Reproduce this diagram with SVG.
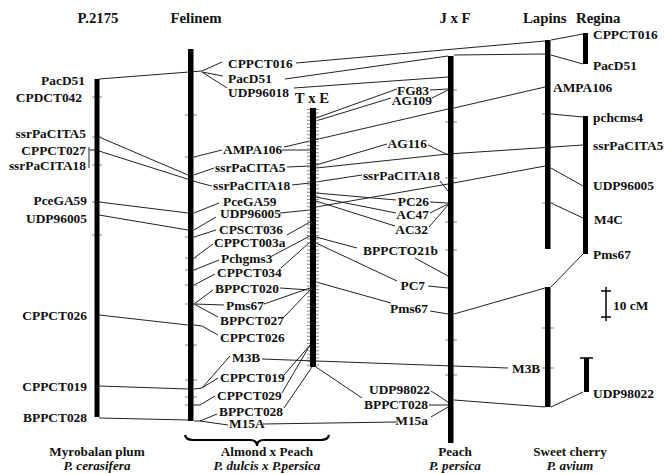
<svg xmlns="http://www.w3.org/2000/svg" width="665" height="474" viewBox="0 0 665 474">
<style>
.bar{fill:#000}
.c{fill:none;stroke:#222;stroke-width:1}
.tk{stroke:#888;stroke-width:1}
.t{font-family:"Liberation Serif","Times New Roman",serif;font-weight:bold;font-size:13.4px;fill:#111}
.h{font-size:14.8px}
.b{font-size:13.2px}
.it{font-style:italic}
.e{text-anchor:end}
.m{text-anchor:middle}
</style>
<rect width="665" height="474" fill="#fff"/>
<g id="titles" class="t h m">
<text x="98" y="23">P.2175</text>
<text x="196" y="23">Felinem</text>
<text x="312" y="103">T x E</text>
<text x="455" y="23">J x F</text>
<text x="523" y="23" style="text-anchor:start">Lapins</text>
<text x="576" y="23" style="text-anchor:start">Regina</text>
</g>
<g id="connectors" class="c">
<polyline points="99,79 202,71"/>
<polyline points="202,71 222,62"/>
<polyline points="202,72 223,76"/>
<polyline points="202,72 227,88"/>
<polyline points="99,137 188,175"/>
<polyline points="194,175 214,168"/>
<polyline points="89,147 89,168"/>
<polyline points="89,150 95,150"/>
<polyline points="99,151 200,183 212,186"/>
<polyline points="99,202 188,213"/>
<polyline points="194,213 219,203"/>
<polyline points="99,215 188,230"/>
<polyline points="194,230 216,217"/>
<polyline points="194,237 216,230"/>
<polyline points="194,258 213,244"/>
<polyline points="194,270 219,260"/>
<polyline points="194,285 215,274"/>
<polyline points="194,304 213,290"/>
<polyline points="194,304 224,305"/>
<polyline points="194,304 218,317"/>
<polyline points="99,315 188,325"/>
<polyline points="194,325 202,326 218,335"/>
<polyline points="99,386 188,389"/>
<polyline points="194,389 202,388 218,378"/>
<polyline points="202,388 230,356"/>
<polyline points="194,405 200,405 215,396"/>
<polyline points="99,418 188,420"/>
<polyline points="194,421 200,421 217,414"/>
<polyline points="200,421 228,425"/>
<polyline points="296,63 545,41"/>
<polyline points="551,40 583,34"/>
<polyline points="285,79 448,56"/>
<polyline points="454,55 545,54"/>
<polyline points="551,55 583,64"/>
<polyline points="294,88 448,77"/>
<polyline points="194,157 222,150"/>
<polyline points="282,150 310,150"/>
<polyline points="284,147 448,109"/>
<polyline points="454,108 545,87"/>
<polyline points="287,167 310,166"/>
<polyline points="316,168 448,154 583,145"/>
<polyline points="292,185 310,183"/>
<polyline points="316,182 362,175"/>
<polyline points="280,213 310,210"/>
<polyline points="316,207 448,184 545,166"/>
<polyline points="551,168 583,186"/>
<polyline points="287,235 310,222"/>
<polyline points="272,256 310,236"/>
<polyline points="281,268 310,242"/>
<polyline points="280,288 310,290"/>
<polyline points="264,304 310,288"/>
<polyline points="283,318 310,290"/>
<polyline points="262,359 508,368"/>
<polyline points="284,375 310,345"/>
<polyline points="282,393 310,345"/>
<polyline points="284,408 312,367"/>
<polyline points="263,424 396,422"/>
<polyline points="316,118 397,89"/>
<polyline points="316,121 391,98"/>
<polyline points="430,90 448,89"/>
<polyline points="432,98 448,90"/>
<polyline points="316,165 387,144"/>
<polyline points="428,145 448,155"/>
<polyline points="440,181 448,191"/>
<polyline points="316,193 396,200"/>
<polyline points="430,202 448,203"/>
<polyline points="316,197 396,213"/>
<polyline points="430,213 448,204"/>
<polyline points="316,201 395,226"/>
<polyline points="429,227 448,205"/>
<polyline points="316,237 357,248"/>
<polyline points="415,258 448,276"/>
<polyline points="316,243 397,281"/>
<polyline points="428,286 448,288"/>
<polyline points="316,282 391,303"/>
<polyline points="430,311 448,314"/>
<polyline points="454,314 545,288"/>
<polyline points="551,287 583,254"/>
<polyline points="316,367 362,398"/>
<polyline points="431,391 448,402"/>
<polyline points="429,405 448,405"/>
<polyline points="431,417 448,407"/>
<polyline points="454,400 545,407"/>
<polyline points="551,407 583,392"/>
<polyline points="551,114 583,117"/>
<polyline points="551,203 583,218"/>
</g>
<g id="P2175">
<g class="tk">
<line x1="92" y1="97" x2="102" y2="97"/><line x1="92" y1="137" x2="102" y2="137"/><line x1="92" y1="165" x2="102" y2="165"/><line x1="92" y1="202" x2="102" y2="202"/><line x1="92" y1="235" x2="102" y2="235"/>
</g>
<rect class="bar" x="94.5" y="79" width="5" height="338"/>
<g class="t e">
<text x="85" y="84.5">PacD51</text>
<text x="82" y="101.5">CPDCT042</text>
<text x="86" y="137.5">ssrPaCITA5</text>
<text x="86" y="154.5">CPPCT027</text>
<text x="86" y="169.5">ssrPaCITA18</text>
<text x="87" y="204.5">PceGA59</text>
<text x="87" y="222.5">UDP96005</text>
<text x="87" y="319.5">CPPCT026</text>
<text x="87" y="390.5">CPPCT019</text>
<text x="87" y="421.5">BPPCT028</text>
</g>
</g>
<g id="Felinem">
<g class="tk">
<line x1="185" y1="115" x2="197" y2="115"/><line x1="185" y1="157" x2="197" y2="157"/><line x1="185" y1="237" x2="197" y2="237"/><line x1="185" y1="258" x2="197" y2="258"/><line x1="185" y1="270" x2="197" y2="270"/><line x1="185" y1="285" x2="197" y2="285"/><line x1="185" y1="304" x2="197" y2="304"/><line x1="185" y1="345" x2="197" y2="345"/><line x1="185" y1="380" x2="197" y2="380"/><line x1="185" y1="397" x2="197" y2="397"/><line x1="185" y1="405" x2="197" y2="405"/>
</g>
<rect class="bar" x="188" y="49" width="5.5" height="372"/>
<g class="t">
<text x="228" y="67.5">CPPCT016</text>
<text x="228" y="83">PacD51</text>
<text x="228" y="96.5">UDP96018</text>
<text x="223" y="153.5">AMPA106</text>
<text x="215" y="171.5">ssrPaCITA5</text>
<text x="213" y="189.5">ssrPaCITA18</text>
<text x="223" y="205.5">PceGA59</text>
<text x="220" y="217.5">UDP96005</text>
<text x="219" y="233.5">CPSCT036</text>
<text x="214" y="246.5">CPPCT003a</text>
<text x="221" y="262.5">Pchgms3</text>
<text x="217" y="276.5">CPPCT034</text>
<text x="215" y="292.5">BPPCT020</text>
<text x="226" y="309.5">Pms67</text>
<text x="220" y="324.5">BPPCT027</text>
<text x="220" y="341.5">CPPCT026</text>
<text x="232" y="361.5">M3B</text>
<text x="220" y="381.5">CPPCT019</text>
<text x="217" y="399.5">CPPCT029</text>
<text x="219" y="415.5">BPPCT028</text>
<text x="229" y="427.5">M15A</text>
</g>
</g>
<g id="TxE">
<line x1="313" y1="109" x2="313" y2="366" stroke="#888" stroke-width="12" stroke-dasharray="1 2.6"/>
<rect class="bar" x="310" y="108" width="6" height="259"/>
</g>
<g id="JxF">
<g class="tk">
<line x1="445" y1="90" x2="457" y2="90"/><line x1="445" y1="122" x2="457" y2="122"/><line x1="445" y1="178" x2="457" y2="178"/><line x1="445" y1="222" x2="457" y2="222"/><line x1="445" y1="250" x2="457" y2="250"/><line x1="445" y1="340" x2="457" y2="340"/><line x1="445" y1="375" x2="457" y2="375"/>
</g>
<rect class="bar" x="448" y="56" width="5.5" height="387"/>
<g class="t e">
<text x="429" y="94.5">FG83</text>
<text x="432" y="104.5">AG109</text>
<text x="427" y="147.5">AG116</text>
<text x="440" y="179.5">ssrPaCITA18</text>
<text x="429" y="205.5">PC26</text>
<text x="429" y="218.5">AC47</text>
<text x="428" y="233.5">AC32</text>
<text x="438" y="254.5">BPPCTO21b</text>
<text x="425" y="289.5">PC7</text>
<text x="428" y="312.5">Pms67</text>
<text x="430" y="393.5">UDP98022</text>
<text x="428" y="408.5">BPPCT028</text>
<text x="428" y="424.5">M15a</text>
</g>
</g>
<g id="Lapins">
<g class="tk">
<line x1="542" y1="114" x2="554" y2="114"/><line x1="542" y1="203" x2="554" y2="203"/><line x1="542" y1="328" x2="554" y2="328"/><line x1="542" y1="368" x2="554" y2="368"/>
</g>
<rect class="bar" x="545" y="40" width="5.5" height="209"/>
<rect class="bar" x="545" y="287" width="5.5" height="120"/>
<g class="t">
<text x="553" y="91.5">AMPA106</text>
<text x="512" y="372.5">M3B</text>
</g>
</g>
<g id="Regina">
<rect class="bar" x="583" y="33" width="5" height="31"/>
<rect class="bar" x="583" y="116" width="5" height="138"/>
<rect class="bar" x="584" y="358" width="5" height="34"/>
<line x1="580" y1="358" x2="593" y2="358" stroke="#000" stroke-width="1.5"/>
<g class="t">
<text x="593" y="38.5">CPPCT016</text>
<text x="593" y="69.5">PacD51</text>
<text x="593" y="121.5">pchcms4</text>
<text x="593" y="149.5">ssrPaCITA5</text>
<text x="593" y="189.5">UDP96005</text>
<text x="594" y="223.5">M4C</text>
<text x="593" y="258.5">Pms67</text>
<text x="593" y="397.5">UDP98022</text>
</g>
</g>
<g id="scale">
<line x1="606" y1="287" x2="606" y2="321" stroke="#000" stroke-width="1.5"/>
<line x1="601" y1="291" x2="611" y2="291" stroke="#000" stroke-width="1.5"/>
<line x1="601" y1="317" x2="611" y2="317" stroke="#000" stroke-width="1.5"/>
<text class="t" x="613" y="310">10 cM</text>
</g>
<g id="species" class="t b m">
<text x="97" y="456">Myrobalan plum</text>
<text class="it" x="97" y="470">P. cerasifera</text>
<text x="267" y="456">Almond x Peach</text>
<text class="it" x="267" y="470">P. dulcis x P.persica</text>
<text x="455" y="456">Peach</text>
<text class="it" x="455" y="470">P. persica</text>
<text x="570" y="456">Sweet cherry</text>
<text class="it" x="570" y="470">P. avium</text>
</g>
<path id="brace" d="M185,435 Q186,440 193,440 L250,440 Q257,440 257,446 Q257,440 264,440 L321,440 Q328,440 329,435" fill="none" stroke="#000" stroke-width="2.2"/>
</svg>
